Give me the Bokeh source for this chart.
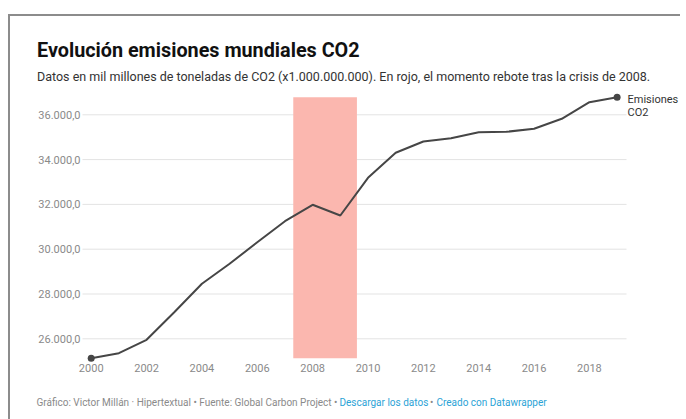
from bokeh.plotting import figure
from bokeh.models import Label, Range1d
from bokeh.core.properties import value
from bokeh.embed import file_html
from bokeh.resources import INLINE

# ---- data ----
years = [2000, 2001, 2002, 2003, 2004, 2005, 2006, 2007, 2008, 2009,
         2010, 2011, 2012, 2013, 2014, 2015, 2016, 2017, 2018, 2019]
emissions = [25134, 25357, 25955, 27187, 28455, 29348, 30312, 31250, 31982, 31504,
             33187, 34304, 34808, 34955, 35223, 35241, 35375, 35821, 36563, 36786]
highlight_start = 2007.3
highlight_end = 2009.6
y_ticks = [26000, 28000, 30000, 32000, 34000, 36000]
y_tick_labels = ["26.000,0", "28.000,0", "30.000,0", "32.000,0", "34.000,0", "36.000,0"]
x_ticks = [2000, 2002, 2004, 2006, 2008, 2010, 2012, 2014, 2016, 2018]
x_tick_labels = [str(t) for t in x_ticks]

title_text = "Evolución emisiones mundiales CO2"
subtitle_text = ("Datos en mil millones de toneladas de CO2 (x1.000.000.000). "
                 "En rojo, el momento rebote tras la crisis de 2008.")
footer_gray = "Gráfico: Victor Millán · Hipertextual • Fuente: Global Carbon Project •"
footer_link1 = "Descargar los datos"
footer_link2 = "Creado con Datawrapper"
series_label_lines = ["Emisiones", "CO2"]

FONT = "Roboto"
W, H = 680, 419

# scale: data units per canvas pixel; frame covers the whole canvas
X0, XPP = 1996.723, 0.0361283
Y1, YPP = 41102.7, 44.643
X1 = X0 + W * XPP
Y0 = Y1 - H * YPP


def px(x):
    """canvas pixel x -> data x"""
    return X0 + x * XPP


def py(y):
    """canvas pixel y (from top) -> data y"""
    return Y1 - y * YPP


p = figure(width=W, height=H, output_backend="svg", toolbar_location=None,
           x_range=Range1d(X0, X1), y_range=Range1d(Y0, Y1),
           x_axis_location=None, y_axis_location=None, title=None,
           min_border=0, min_border_left=0, min_border_right=0,
           min_border_top=0, min_border_bottom=0)
p.outline_line_color = None
p.background_fill_color = "white"
p.border_fill_color = "white"
p.xgrid.visible = False
p.ygrid.visible = False

# outer box border (left and top edges visible), drawn as filled strips
p.quad(left=[px(7.5), px(7.5)], right=[px(9.5), px(W + 2)],
       top=[py(13.5), py(13.5)], bottom=[py(H + 2), py(15.5)],
       fill_color="#8c8c8c", line_color=None)

# horizontal gridlines
grid_x0, grid_x1 = px(82), px(626)
p.segment(x0=[grid_x0] * len(y_ticks), x1=[grid_x1] * len(y_ticks),
          y0=y_ticks, y1=y_ticks, line_color="#e3e3e3", line_width=1)

# y tick labels
p.text(x=[px(80)] * len(y_ticks), y=y_ticks, text=y_tick_labels,
       text_font=value(FONT), text_font_size="11px", text_color="#8a8a8a",
       text_align="right", text_baseline="middle")

# x tick labels
p.text(x=x_ticks, y=[py(367)] * len(x_ticks), text=x_tick_labels,
       text_font=value(FONT), text_font_size="11px", text_color="#8a8a8a",
       text_align="center", text_baseline="middle")

# highlight band
p.quad(left=[highlight_start], right=[highlight_end],
       bottom=[min(emissions)], top=[max(emissions)],
       fill_color="#fbb7af", line_color=None)

# line and end dots
p.line(years, emissions, line_color="#464646", line_width=2)
p.scatter([years[0], years[-1]], [emissions[0], emissions[-1]],
          size=7, fill_color="#464646", line_color=None)

# series label
for i, t in enumerate(series_label_lines):
    p.add_layout(Label(x=px(627), y=py(99 + 13 * i), text=t,
                       text_align="left", text_baseline="middle",
                       text_font=FONT, text_font_size="11px", text_color="#333333"))

# title / subtitle
p.add_layout(Label(x=px(36.5), y=py(49.5), text=title_text, text_font=FONT,
                   text_font_size="19.8px", text_font_style="bold",
                   text_color="#111111", text_baseline="alphabetic"))
p.add_layout(Label(x=px(36.5), y=py(75.5), text=subtitle_text, text_font=FONT,
                   text_font_size="12.5px", text_color="#333333",
                   text_baseline="alphabetic"))

# footer
fy = py(401.5)
p.add_layout(Label(x=px(36), y=fy, text=footer_gray, text_font=FONT,
                   text_font_size="10px", text_color="#8a8a8a", text_baseline="middle"))
p.add_layout(Label(x=px(339), y=fy, text=footer_link1, text_font=FONT,
                   text_font_size="10px", text_color="#2ba3d6", text_baseline="middle"))
p.add_layout(Label(x=px(429.5), y=fy, text="•", text_font=FONT,
                   text_font_size="10px", text_color="#8a8a8a", text_baseline="middle"))
p.add_layout(Label(x=px(436), y=fy, text=footer_link2, text_font=FONT,
                   text_font_size="10px", text_color="#2ba3d6", text_baseline="middle"))

open("out.html", "w").write(file_html(p, INLINE))
